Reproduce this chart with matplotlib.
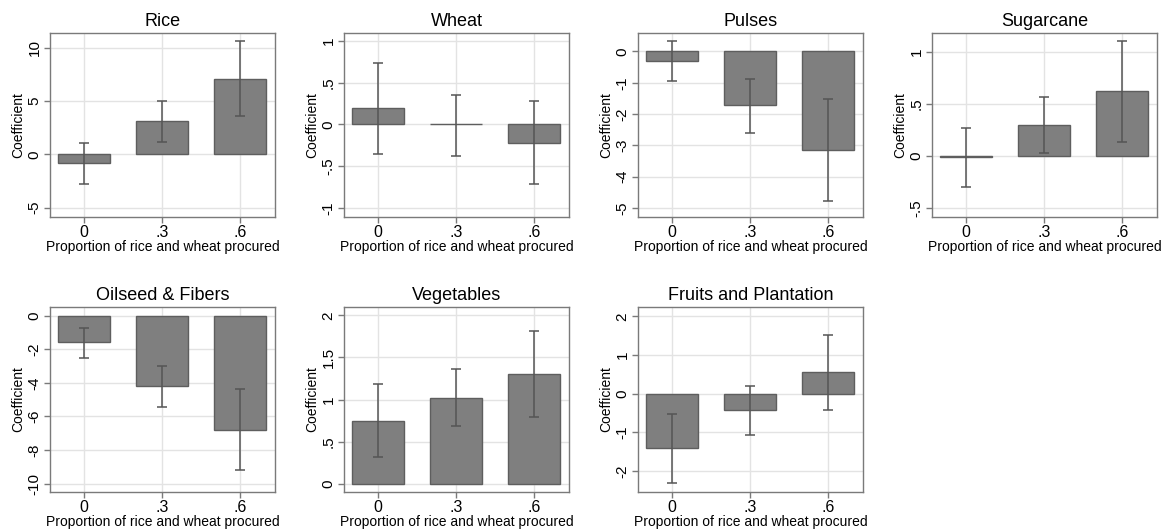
import numpy as np
import matplotlib.pyplot as plt

plt.rcParams['font.family'] = ['Liberation Sans', 'DejaVu Sans']

# share of rice and wheat procured (x categories)
shares = [0, 0.3, 0.6]
share_labels = ['0', '.3', '.6']

crops = ['Rice', 'Wheat', 'Pulses', 'Sugarcane',
         'Oilseed & Fibers', 'Vegetables', 'Fruits and Plantation']

# point estimates
coef = {
    'Rice': [-0.84, 3.15, 7.12],
    'Wheat': [0.20, 0.0, -0.22],
    'Pulses': [-0.29, -1.72, -3.15],
    'Sugarcane': [-0.01, 0.30, 0.62],
    'Oilseed & Fibers': [-1.57, -4.17, -6.81],
    'Vegetables': [0.75, 1.02, 1.30],
    'Fruits and Plantation': [-1.41, -0.41, 0.55],
}
# confidence interval bounds
ci_lo = {
    'Rice': [-2.78, 1.18, 3.59],
    'Wheat': [-0.35, -0.376, -0.71],
    'Pulses': [-0.94, -2.60, -4.79],
    'Sugarcane': [-0.30, 0.03, 0.13],
    'Oilseed & Fibers': [-2.53, -5.41, -9.21],
    'Vegetables': [0.32, 0.69, 0.79],
    'Fruits and Plantation': [-2.31, -1.06, -0.41],
}
ci_hi = {
    'Rice': [1.09, 5.03, 10.65],
    'Wheat': [0.74, 0.35, 0.28],
    'Pulses': [0.35, -0.87, -1.52],
    'Sugarcane': [0.27, 0.57, 1.106],
    'Oilseed & Fibers': [-0.74, -2.97, -4.35],
    'Vegetables': [1.18, 1.36, 1.82],
    'Fruits and Plantation': [-0.52, 0.19, 1.52],
}

yticks = {
    'Rice': [-5, 0, 5, 10],
    'Wheat': [-1, -0.5, 0, 0.5, 1],
    'Pulses': [-5, -4, -3, -2, -1, 0],
    'Sugarcane': [-0.5, 0, 0.5, 1],
    'Oilseed & Fibers': [-10, -8, -6, -4, -2, 0],
    'Vegetables': [0, 0.5, 1, 1.5, 2],
    'Fruits and Plantation': [-2, -1, 0, 1, 2],
}
ylims = {
    'Rice': (-5.87, 11.4),
    'Wheat': (-1.11, 1.096),
    'Pulses': (-5.29, 0.59),
    'Sugarcane': (-0.587, 1.18),
    'Oilseed & Fibers': (-10.5, 0.52),
    'Vegetables': (-0.1, 2.1),
    'Fruits and Plantation': (-2.54, 2.24),
}


def stata_fmt(v):
    # stata style labels: .5, -.5, 1.5
    s = ('%g' % v)
    s = s.replace('0.', '.')
    return s


W, H = 1169, 531
fig = plt.figure(figsize=(W / 100, H / 100), dpi=100)

# axes boxes in pixels: left, top, right, bottom
boxes = [
    (50, 33, 275, 217), (344, 33, 569, 217), (638, 33, 863, 217), (932, 33, 1157, 217),
    (50, 307, 275, 492), (344, 307, 569, 492), (638, 307, 863, 492),
]

frame = '#7a7a7a'
for crop, (l, t, r, b) in zip(crops, boxes):
    ax = fig.add_axes([l / W, 1 - b / H, (r - l) / W, (b - t) / H])
    ax.set_axisbelow(True)
    c = np.array(coef[crop])
    lo = np.array(ci_lo[crop])
    hi = np.array(ci_hi[crop])
    ax.bar(shares, c, width=0.2, color='#7f7f7f', edgecolor='#5e5e5e', linewidth=1, zorder=2)
    ax.errorbar(shares, c, yerr=[c - lo, hi - c], fmt='none', ecolor='#555555',
                elinewidth=1.1, capsize=3.5, capthick=1.1, zorder=3)
    ax.set_xlim(-0.13, 0.735)
    ax.set_ylim(*ylims[crop])
    ax.set_xticks(shares)
    ax.set_xticklabels(share_labels, fontsize=11.5)
    ax.set_yticks(yticks[crop])
    ax.set_yticklabels([stata_fmt(v) for v in yticks[crop]], fontsize=11,
                       rotation=90, va='center')
    ax.grid(True, color='#e3e3e3', linewidth=1)
    for s in ax.spines.values():
        s.set_color(frame)
        s.set_linewidth(1)
    ax.tick_params(color=frame, length=4, width=1, pad=2)
    ax.set_title(crop, fontsize=13, pad=5)
    ax.set_xlabel('Proportion of rice and wheat procured', fontsize=10, labelpad=0)
    ax.set_ylabel('Coefficient', fontsize=10, labelpad=2)

fig.savefig('out.png', dpi=100, facecolor='white')
